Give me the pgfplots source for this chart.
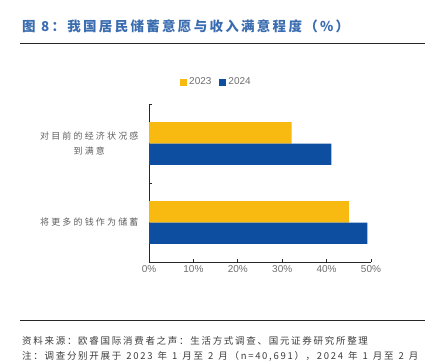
\documentclass[border=0pt]{standalone}
\usepackage{fontspec}
\setmainfont{Liberation Sans}
\newfontfamily\cjk[LetterSpace=24]{Noto Sans CJK SC}
\newfontfamily\cjkt[LetterSpace=17]{Noto Sans CJK SC}
\newfontfamily\cjks[LetterSpace=18]{Noto Sans CJK SC}
\usepackage{pgfplots}
\pgfplotsset{compat=1.18}
\definecolor{cyellow}{RGB}{248,185,17}
\definecolor{cblue}{RGB}{13,78,161}
\definecolor{ctitle}{RGB}{58,108,176}
\definecolor{ctick}{RGB}{110,110,110}
\definecolor{clabel}{RGB}{95,95,95}
\definecolor{csrc}{RGB}{60,60,60}
\newcommand\wsp{\hspace{5pt}}
\begin{document}
\begin{tikzpicture}[x=1pt,y=1pt]
\useasboundingbox (0,0) rectangle (435,-362);
\node[anchor=west, text=ctitle, font=\cjkt\bfseries\fontsize{13.5}{15}\selectfont, inner sep=0pt] at (22,-26) {图 8：我国居民储蓄意愿与收入满意程度（\%）};
\draw[line width=0.9pt, black!85] (20,-43) -- (425,-43);
\begin{axis}[
  at={(149pt,-262pt)}, anchor=south west,
  scale only axis, width=222pt, height=158pt,
  xbar, xmin=0, xmax=50, ymin=-0.5, ymax=1.5,
  bar width=0.27,
  axis lines*=left,
  axis line style={black!85, line width=0.8pt},
  xtick={0,10,20,30,40,50},
  xticklabel={\pgfmathprintnumber{\tick}\%},
  /pgf/number format/assume math mode=true,
  xticklabel style={text=ctick, font=\fontsize{10}{12}\selectfont},
  ytick={0,1},
  yticklabels={将更多的钱作为储蓄, 对目前的经济状况感\\到满意},
  yticklabel style={text=clabel, font=\cjk\fontsize{9}{15}\selectfont, align=center, xshift=-7pt},
  minor ytick={-0.5,0.5,1.5},
  tick align=inside,
  major tick length=3pt, minor tick length=3pt,
  every tick/.style={black!85, line width=0.7pt},
  major y tick style={draw=none},
  legend style={at={(0.304,1.139)}, anchor=center, draw=none, fill=none,
    legend columns=2, font=\fontsize{10}{12}\selectfont, text=ctick,
    /tikz/every even column/.append style={column sep=6pt},
    inner sep=0pt},
  legend image code/.code={\fill[#1] (0pt,-3.5pt) rectangle (7pt,3.5pt);},
]
\addplot[fill=cyellow, draw=none, bar shift=0.135] coordinates {(45.0,0) (32.1,1)};
\addlegendentry{2023}
\addplot[fill=cblue, draw=none, bar shift=-0.135] coordinates {(49.2,0) (41.1,1)};
\addlegendentry{2024}
\end{axis}
\draw[line width=0.9pt, black!85] (20,-320) -- (425,-320);
\node[anchor=west, text=csrc, font=\cjks\fontsize{9.5}{11}\selectfont, inner sep=0pt] at (22,-341) {资料来源：欧睿国际消费者之声：生活方式调查、国元证券研究所整理};
\node[anchor=west, text=csrc, font=\cjks\fontsize{9.5}{11}\selectfont, inner sep=0pt] at (22,-356) {注：调查分别开展于\wsp 2023\wsp 年\wsp 1\wsp 月至\wsp 2\wsp 月（n=40,691），2024\wsp 年\wsp 1\wsp 月至\wsp 2\wsp 月};
\end{tikzpicture}
\end{document}
